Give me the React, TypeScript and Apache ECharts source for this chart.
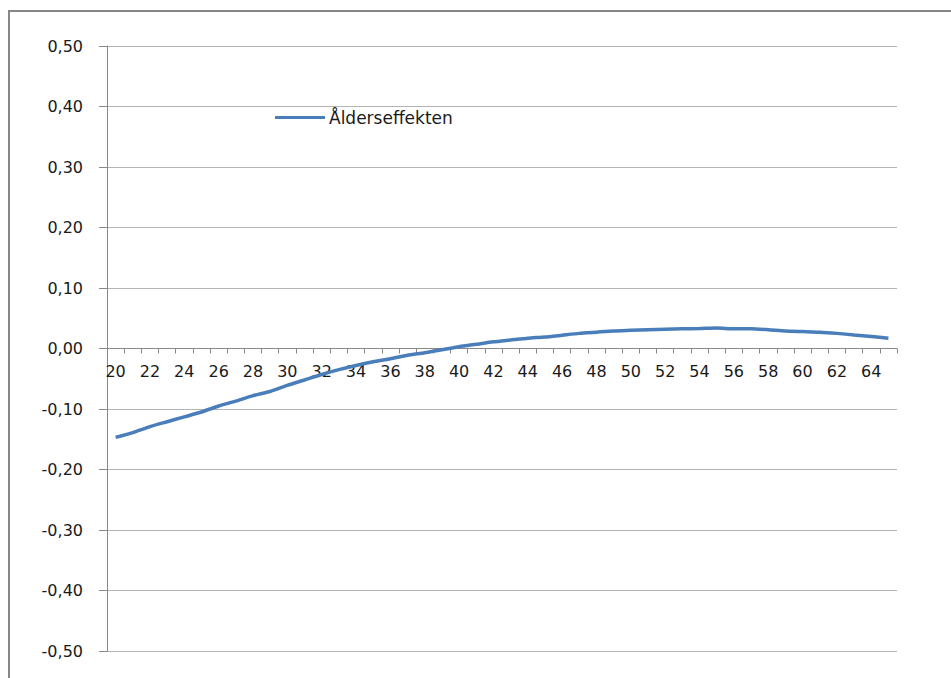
import React, { useEffect, useRef } from "react";
import * as echarts from "echarts";

const ages: string[] = [
  "20","21","22","23","24","25","26","27","28","29",
  "30","31","32","33","34","35","36","37","38","39",
  "40","41","42","43","44","45","46","47","48","49",
  "50","51","52","53","54","55","56","57","58","59",
  "60","61","62","63","64","65",
];

const alderseffekten: number[] = [
  -0.147, -0.139, -0.129, -0.121, -0.113, -0.105, -0.095, -0.087, -0.078, -0.071,
  -0.061, -0.052, -0.043, -0.035, -0.028, -0.022, -0.017, -0.011, -0.007, -0.002,
  0.003, 0.007, 0.011, 0.014, 0.017, 0.019, 0.022, 0.025, 0.027, 0.029,
  0.030, 0.031, 0.032, 0.0325, 0.033, 0.034, 0.0325, 0.0325, 0.031, 0.029,
  0.028, 0.027, 0.025, 0.0225, 0.020, 0.017,
];

const seriesName = "Ålderseffekten";
const yMin = -0.5;
const yMax = 0.5;
const yStep = 0.1;

const gridTop = 46;
const gridBottom = 27;
const chartH = 678;

export default function App() {
  const ref = useRef<HTMLDivElement>(null);
  useEffect(() => {
    if (!ref.current) return;
    const chart = echarts.init(ref.current, null, { renderer: "svg" });
    const font = "DejaVu Sans";
    const plotH = chartH - gridTop - gridBottom;
    // move the category axis (line, ticks, labels) up to value 0
    const zeroOffset = -plotH * ((0 - yMin) / (yMax - yMin));
    chart.setOption({
      animation: false,
      backgroundColor: "#ffffff",
      graphic: [
        {
          type: "rect",
          shape: { x: 9, y: 11, width: 1000, height: 700 },
          style: { fill: "none", stroke: "#868686", lineWidth: 2 },
          silent: true,
          z: 100,
        },
      ],
      legend: {
        left: 275,
        top: 109,
        padding: 0,
        itemWidth: 50,
        itemHeight: 3,
        icon: "rect",
        itemGap: 5,
        data: [{ name: seriesName }],
        textStyle: { fontFamily: font, fontSize: 17, color: "#1a1a1a", padding: [0, 0, 0, -1] },
      },
      grid: { left: 107, top: gridTop, right: 54, bottom: gridBottom, containLabel: false },
      xAxis: {
        type: "category",
        data: ages,
        boundaryGap: true,
        offset: zeroOffset,
        axisLine: { onZero: false, lineStyle: { color: "#888888", width: 1 } },
        axisTick: { show: true, interval: 0, length: 5, alignWithLabel: false, lineStyle: { color: "#888888" } },
        axisLabel: { interval: 1, margin: 15, fontFamily: font, fontSize: 16, color: "#1a1a1a" },
        splitLine: { show: false },
      },
      yAxis: {
        type: "value",
        min: yMin,
        max: yMax,
        interval: yStep,
        axisLine: { show: true, lineStyle: { color: "#888888", width: 1 } },
        axisTick: { show: true, length: 8, lineStyle: { color: "#888888" } },
        axisLabel: {
          margin: 24,
          fontFamily: font,
          fontSize: 16,
          color: "#1a1a1a",
          formatter: (v: number) => v.toFixed(2).replace(".", ","),
        },
        splitLine: { show: true, lineStyle: { color: "#b4b4b4", width: 1 } },
      },
      series: [
        {
          name: seriesName,
          type: "line",
          data: alderseffekten,
          showSymbol: false,
          symbol: "none",
          smooth: 0.2,
          itemStyle: { color: "#4a7ebb" },
          lineStyle: { color: "#4a7ebb", width: 3.5 },
        },
      ],
    });
    return () => chart.dispose();
  }, []);
  return (
    <div
      ref={ref}
      style={{ position: "fixed", left: 0, top: 0, width: 951, height: 678 }}
    />
  );
}
